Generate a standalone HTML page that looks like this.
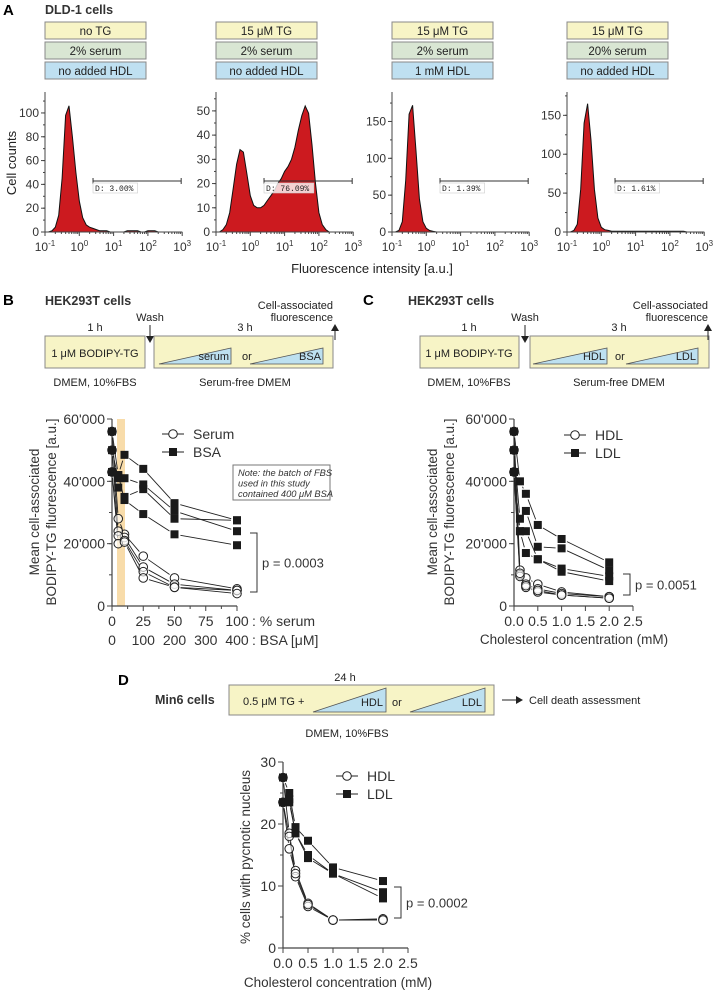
<!DOCTYPE html>
<html><head><meta charset="utf-8">
<style>
body{margin:0;background:#fff}
svg{display:block;font-family:"Liberation Sans",sans-serif}
.t{font-size:11px;fill:#222}
.b{font-weight:bold}
</style></head>
<body>
<svg id="fig" width="715" height="991" viewBox="0 0 715 991">
<!-- Panel A header -->
<text x="3" y="15" font-size="15" font-weight="bold">A</text>
<text x="45" y="14" font-size="12.5" font-weight="bold" fill="#333">DLD-1 cells</text>
<g id="condboxes"></g>
<text transform="translate(16,163) rotate(-90)" text-anchor="middle" font-size="13" fill="#222">Cell counts</text>
<text x="372" y="273" text-anchor="middle" font-size="13" fill="#222">Fluorescence intensity [a.u.]</text>

<!-- Panel B header -->
<text x="3" y="305" font-size="15" font-weight="bold">B</text>
<text x="45" y="305" font-size="12.5" font-weight="bold" fill="#333">HEK293T cells</text>
<g>
<text x="95" y="331" text-anchor="middle" class="t">1 h</text>
<rect x="45" y="336" width="100" height="32" fill="#f7f4c6" stroke="#888"/>
<text x="95" y="357" text-anchor="middle" class="t">1 μM BODIPY-TG</text>
<text x="95" y="386" text-anchor="middle" class="t">DMEM, 10%FBS</text>
<text x="150" y="321" text-anchor="middle" class="t">Wash</text>
<line x1="150" y1="325" x2="150" y2="340" stroke="#222"/><path d="M146,336 L150,343 L154,336Z" fill="#222"/>
<rect x="154" y="336" width="179" height="32" fill="#f7f4c6" stroke="#888"/>
<text x="245" y="331" text-anchor="middle" class="t">3 h</text>
<path d="M159,364 L231,348 L231,364Z" fill="#bde0f0" stroke="#555" stroke-width="0.8"/>
<text x="229" y="360" text-anchor="end" class="t">serum</text>
<text x="242" y="360" class="t">or</text>
<path d="M250,364 L323,348 L323,364Z" fill="#bde0f0" stroke="#555" stroke-width="0.8"/>
<text x="321" y="360" text-anchor="end" class="t">BSA</text>
<text x="245" y="386" text-anchor="middle" class="t">Serum-free DMEM</text>
<text x="333" y="309" text-anchor="end" class="t">Cell-associated</text>
<text x="333" y="321" text-anchor="end" class="t">fluorescence</text>
<line x1="335" y1="340" x2="335" y2="328" stroke="#222"/><path d="M331,331 L335,324 L339,331Z" fill="#222"/>
</g>

<!-- Panel C header -->
<text x="363" y="305" font-size="15" font-weight="bold">C</text>
<text x="408" y="305" font-size="12.5" font-weight="bold" fill="#333">HEK293T cells</text>
<g>
<text x="469" y="331" text-anchor="middle" class="t">1 h</text>
<rect x="420" y="336" width="99" height="32" fill="#f7f4c6" stroke="#888"/>
<text x="469" y="357" text-anchor="middle" class="t">1 μM BODIPY-TG</text>
<text x="469" y="386" text-anchor="middle" class="t">DMEM, 10%FBS</text>
<text x="525" y="321" text-anchor="middle" class="t">Wash</text>
<line x1="525" y1="325" x2="525" y2="340" stroke="#222"/><path d="M521,336 L525,343 L529,336Z" fill="#222"/>
<rect x="530" y="336" width="179" height="32" fill="#f7f4c6" stroke="#888"/>
<text x="619" y="331" text-anchor="middle" class="t">3 h</text>
<path d="M533,364 L607,348 L607,364Z" fill="#bde0f0" stroke="#555" stroke-width="0.8"/>
<text x="605" y="360" text-anchor="end" class="t">HDL</text>
<text x="615" y="360" class="t">or</text>
<path d="M626,364 L698,348 L698,364Z" fill="#bde0f0" stroke="#555" stroke-width="0.8"/>
<text x="696" y="360" text-anchor="end" class="t">LDL</text>
<text x="619" y="386" text-anchor="middle" class="t">Serum-free DMEM</text>
<text x="708" y="309" text-anchor="end" class="t">Cell-associated</text>
<text x="708" y="321" text-anchor="end" class="t">fluorescence</text>
<line x1="708" y1="340" x2="708" y2="328" stroke="#222"/><path d="M704,331 L708,324 L712,331Z" fill="#222"/>
</g>

<!-- Panel D header -->
<text x="118" y="685" font-size="15" font-weight="bold">D</text>
<text x="155" y="704" font-size="12.5" font-weight="bold" fill="#333">Min6 cells</text>
<g>
<text x="345" y="681" text-anchor="middle" class="t">24 h</text>
<rect x="229" y="685" width="265" height="30" fill="#f7f4c6" stroke="#888"/>
<text x="243" y="705" class="t">0.5 μM TG  +</text>
<path d="M313,712 L386,688 L386,712Z" fill="#bde0f0" stroke="#555" stroke-width="0.8"/>
<text x="383" y="706" text-anchor="end" class="t">HDL</text>
<text x="392" y="706" class="t">or</text>
<path d="M410,712 L485,688 L485,712Z" fill="#bde0f0" stroke="#555" stroke-width="0.8"/>
<text x="482" y="706" text-anchor="end" class="t">LDL</text>
<text x="347" y="737" text-anchor="middle" class="t">DMEM, 10%FBS</text>
<line x1="502" y1="700" x2="518" y2="700" stroke="#222"/><path d="M516,696 L523,700 L516,704Z" fill="#222"/>
<text x="529" y="704" class="t">Cell death assessment</text>
</g>
</svg>
<script>
// ---------- DATA ----------
const histLogBins = [-1.0,-0.9,-0.8,-0.7,-0.6,-0.5,-0.4,-0.3,-0.2,-0.1,0,0.1,0.2,0.3,0.4,0.5,0.6,0.7,0.8,0.9,1.0,1.1,1.2,1.3,1.4,1.5,1.6,1.7,1.8,1.9,2.0,2.1,2.2,2.3,2.4,2.5,2.6,2.7,2.8,2.9,3.0];
const histNoTG   = [0,0,1,4,14,45,98,106,80,50,26,12,6,4,3,2,1,1,1,0,0,0,0,0,1,1,1,1,0,0,1,1,1,0,0,0,0,0,0,0,0];
const histTG     = [0,0,1,3,8,18,28,34,33,24,15,11,10,10,11,13,15,17,20,22,25,27,30,35,42,48,52,49,36,20,8,3,1,0,0,0,0,0,0,0,0];
const histHDL    = [0,0,2,14,70,160,172,110,45,14,5,2,1,0,0,0,0,0,0,0,0,0,0,0,0,0,0,0,0,0,0,0,0,0,0,0,0,0,0,0,0];
const histSerum20= [0,0,2,10,55,140,165,118,55,18,6,3,2,1,1,1,1,1,1,1,1,1,1,1,1,1,1,1,1,1,1,1,1,1,1,0,0,0,0,0,0];
const gateLabels = ["D: 3.00%","D: 76.09%","D: 1.39%","D: 1.61%"];
const condTG    = ["no TG","15 μM TG","15 μM TG","15 μM TG"];
const condSerum = ["2% serum","2% serum","2% serum","20% serum"];
const condHDL   = ["no added HDL","no added HDL","1 mM HDL","no added HDL"];

const bX = [0,5,10,25,50,100];
const bXTicks = [0,25,50,75,100];
const bXTicks2 = [0,100,200,300,400];
const bYTicks = [0,20000,40000,60000];
const bYLabels = ["0","20'000","40'000","60'000"];
const bBSA1 = [56000,42000,48500,44000,33000,27500];
const bBSA2 = [50000,41000,41000,39000,30500,24000];
const bBSA3 = [43000,38000,35000,37500,28000,27500];
const bBSA4 = [43000,42000,34000,29500,23000,19500];
const bSer1 = [56000,28000,23000,16000,9000,5500];
const bSer2 = [50000,24000,22000,12500,7000,5000];
const bSer3 = [43000,22500,21000,11000,6000,5000];
const bSer4 = [43000,20000,20500,9000,6000,4000];

const cX = [0,0.125,0.25,0.5,1,2];
const cXTicks = [0,0.5,1,1.5,2,2.5];
const cLDL1 = [56000,40000,36000,26000,21500,14000];
const cLDL2 = [50000,28000,30500,19000,18500,11500];
const cLDL3 = [43000,24000,24000,15000,12000,9500];
const cLDL4 = [43000,24000,17000,15000,11000,8000];
const cHDL1 = [56000,11500,9000,7000,4500,3000];
const cHDL2 = [50000,10000,7000,5500,4000,3000];
const cHDL3 = [43000,9500,6000,4500,3500,2500];
const cHDL4 = [43000,10500,6500,5000,3500,2500];

const dX = [0,0.125,0.25,0.5,1,2];
const dYTicks = [0,10,20,30];
const dLDL1 = [27.5,25,19.5,17.3,13,10.8];
const dLDL2 = [23.5,24,18.5,15,12,9];
const dLDL3 = [23.5,23.5,18.5,14.5,12,8];
const dHDL1 = [27.5,18.5,12.5,7.2,4.5,4.7];
const dHDL2 = [23.5,18,11.5,6.7,4.5,4.5];
const dHDL3 = [23.5,16,12,7,4.5,4.5];

// ---------- DRAWING ----------
const NS='http://www.w3.org/2000/svg';
const svg=document.getElementById('fig');
function mk(tag, attrs, parent){
  const e=document.createElementNS(NS,tag);
  for(const k in attrs) e.setAttribute(k,attrs[k]);
  (parent||svg).appendChild(e);
  return e;
}
function grp(name){
  const g=mk('g',{});
  
  
  return g;
}

// ---- Panel A ----
const aX0=[45,216,392,567];
const aMax=[117.6,57.8,190,180];
const aYTicks=[[0,20,40,60,80,100],[0,10,20,30,40,50],[0,50,100,150],[0,50,100,150]];
const aHists=[histNoTG,histTG,histHDL,histSerum20];
const aTop=92, aBot=232, dec=34.3;
const cb=document.getElementById('condboxes');
for(let p=0;p<4;p++){
  const x0=aX0[p];
  const rows=[[condTG[p],'#f7f4c6',22],[condSerum[p],'#d9e6d3',42],[condHDL[p],'#bfe0f1',62]];
  rows.forEach((r,i)=>{
    const rc=mk('rect',{x:x0,y:r[2],width:101,height:17,fill:r[1],stroke:'#888'},cb);
    
    
    const tx=mk('text',{x:x0+50.5,y:r[2]+13,'text-anchor':'middle','font-size':'11.5',fill:'#222'},cb);
    tx.textContent=r[0];
  });
  const g=grp('histogram-'+(p+1));
  const xs=v=>x0+(v+1)*dec;
  const ys=v=>aBot-v/aMax[p]*(aBot-aTop);
  let d='M'+xs(-1)+','+aBot;
  aHists[p].forEach((c,i)=>{d+=' L'+xs(histLogBins[i]).toFixed(1)+','+ys(c).toFixed(1);});
  d+=' L'+xs(3)+','+aBot+'Z';
  const h=mk('path',{d:d,fill:'#cc1a1f',stroke:'#111','stroke-width':'1'},g);
  
  
  mk('line',{x1:x0,y1:aTop,x2:x0,y2:aBot,stroke:'#444'},g);
  mk('line',{x1:x0,y1:aBot,x2:xs(3),y2:aBot,stroke:'#444'},g);
  aYTicks[p].forEach(t=>{
    mk('line',{x1:x0-4,y1:ys(t),x2:x0,y2:ys(t),stroke:'#444'},g);
    const tl=mk('text',{x:x0-6,y:ys(t)+4,'text-anchor':'end','font-size':'12',fill:'#333'},g);
    tl.textContent=t;
  });
  const step=aYTicks[p][1]/2;
  for(let v=0;v<=aMax[p];v+=step){mk('line',{x1:x0-2,y1:ys(v),x2:x0,y2:ys(v),stroke:'#444'},g);}
  for(let e=-1;e<=3;e++){
    mk('line',{x1:xs(e),y1:aBot,x2:xs(e),y2:aBot+4,stroke:'#444'},g);
    const tl=mk('text',{x:xs(e),y:aBot+19,'text-anchor':'middle','font-size':'12',fill:'#333'},g);
    tl.innerHTML='10<tspan font-size="8" dy="-5">'+e+'</tspan>';
    if(e<3) for(let m=2;m<10;m++){const lx=xs(e+Math.log10(m));mk('line',{x1:lx,y1:aBot,x2:lx,y2:aBot+2,stroke:'#444'},g);}
  }
  const gx1=xs(0.4), gx2=xs(2.97), gy=181;
  mk('line',{x1:gx1,y1:gy,x2:gx2,y2:gy,stroke:'#333'},g);
  mk('line',{x1:gx1,y1:gy-3,x2:gx1,y2:gy+3,stroke:'#333'},g);
  mk('line',{x1:gx2,y1:gy-3,x2:gx2,y2:gy+3,stroke:'#333'},g);
  const gl=gateLabels[p];
  mk('rect',{x:gx1,y:gy+2,width:gl.length*5.2+3,height:10,fill:'#fff',stroke:'#ccc','stroke-width':'0.6','fill-opacity':'0.8'},g);
  const gt=mk('text',{x:gx1+2,y:gy+10,'font-size':'8','font-family':'Liberation Mono, monospace',fill:'#222'},g);
  
  
  gt.textContent=gl;
}

function scatter(cfg){
  const g=grp(cfg.name);
  const xs=cfg.xs, ys=cfg.ys;
  cfg.series.forEach(s=>{
    s.reps.forEach(rep=>{
      for(let i=0;i<cfg.x.length-1;i++){
        const x1=xs(cfg.x[i]),y1=ys(rep[i]),x2=xs(cfg.x[i+1]),y2=ys(rep[i+1]);
        const L=Math.hypot(x2-x1,y2-y1); if(L<12) continue;
        const ux=(x2-x1)/L,uy=(y2-y1)/L;
        const ln=mk('line',{x1:x1+ux*6,y1:y1+uy*6,x2:x2-ux*6,y2:y2-uy*6,stroke:'#222','stroke-width':'0.9'},g);
        
        
      }
    });
  });
  cfg.series.forEach(s=>{
    s.reps.forEach(rep=>{
      rep.forEach((v,i)=>{
        let m;
        if(s.sq){m=mk('rect',{x:xs(cfg.x[i])-4,y:ys(v)-4,width:8,height:8,fill:'#1a1a1a'},g);}
        else {m=mk('circle',{cx:xs(cfg.x[i]),cy:ys(v),r:4.3,fill:'#fff','fill-opacity':'0.6',stroke:'#222','stroke-width':'1'},g);}
        
        
      });
    });
  });
}
function yAxis(g,x0,ys,ticks,labels,minorStep,ymin,ymax,fs){
  mk('line',{x1:x0,y1:ys(ymax),x2:x0,y2:ys(ymin),stroke:'#444','stroke-width':'1.2'},g);
  ticks.forEach((t,i)=>{
    mk('line',{x1:x0-5,y1:ys(t),x2:x0,y2:ys(t),stroke:'#444'},g);
    const tl=mk('text',{x:x0-7,y:ys(t)+5,'text-anchor':'end','font-size':fs,fill:'#333'},g);
    tl.textContent=labels[i];
  });
  for(let v=ymin;v<=ymax;v+=minorStep) mk('line',{x1:x0-3,y1:ys(v),x2:x0,y2:ys(v),stroke:'#444'},g);
}
function legend(g,x,y,label,sq){
  mk('line',{x1:x-11,y1:y,x2:x+11,y2:y,stroke:'#222'},g);
  if(sq) mk('rect',{x:x-4,y:y-4,width:8,height:8,fill:'#1a1a1a'},g);
  else mk('circle',{cx:x,cy:y,r:4.3,fill:'#fff',stroke:'#222'},g);
  const t=mk('text',{x:x+20,y:y+5,'font-size':'14',fill:'#333'},g);
  
  
  t.textContent=label;
}
function bracket(g,x,y1,y2,label){
  mk('path',{d:'M'+x+','+y1+' L'+(x+7)+','+y1+' L'+(x+7)+','+y2+' L'+x+','+y2,fill:'none',stroke:'#333'},g);
  const t=mk('text',{x:x+12,y:(y1+y2)/2+5,'font-size':'13',fill:'#333'},g);
  
  
  t.textContent=label;
}

// ---- Panel B ----
{
  const xs=v=>112+v*1.25, ys=v=>606-v*(187/60000);
  const g=grp('panel-b-chart');
  const band=mk('rect',{x:xs(4),y:ys(60000),width:8,height:187,fill:'#f8dcaa'},g);
  
  
  yAxis(g,112,ys,bYTicks,bYLabels,10000,0,60000,'14');
  mk('line',{x1:112,y1:606,x2:xs(100),y2:606,stroke:'#444','stroke-width':'1.2'},g);
  for(let v=0;v<=100;v+=12.5) mk('line',{x1:xs(v),y1:606,x2:xs(v),y2:606+(v%25===0?5:3),stroke:'#444'},g);
  bXTicks.forEach((t,i)=>{
    const a=mk('text',{x:xs(t),y:626,'text-anchor':'middle','font-size':'14',fill:'#333'},g); a.textContent=t;
    const b=mk('text',{x:xs(t),y:645,'text-anchor':'middle','font-size':'14',fill:'#333'},g); b.textContent=bXTicks2[i];
  });
  const s1=mk('text',{x:252,y:626,'font-size':'14',fill:'#333'},g); s1.textContent=': % serum';
  const s2=mk('text',{x:252,y:645,'font-size':'14',fill:'#333'},g); s2.textContent=': BSA [μM]';
  const yt=mk('text',{transform:'translate(39,512) rotate(-90)','text-anchor':'middle','font-size':'13.5',fill:'#333'},g);
  
  
  yt.innerHTML='<tspan x="0" dy="0">Mean cell-associated</tspan><tspan x="0" dy="17">BODIPY-TG fluorescence [a.u.]</tspan>';
  legend(g,173,434,'Serum',false);
  legend(g,173,452,'BSA',true);
  const nb=mk('rect',{x:233,y:465,width:97,height:35,fill:'#fff',stroke:'#777'},g);
  
  
  ['Note: the batch of FBS','used in this study','contained 400 μM BSA'].forEach((l,i)=>{
    const t=mk('text',{x:238,y:476+i*10.5,'font-size':'9.3','font-style':'italic',fill:'#333'},g); t.textContent=l;
  });
  bracket(g,250,533,592,'p = 0.0003');
  scatter({name:'panel-b-points',x:bX,xs:xs,ys:ys,series:[
    {label:'serum',sq:false,reps:[bSer1,bSer2,bSer3,bSer4]},
    {label:'bsa',sq:true,reps:[bBSA1,bBSA2,bBSA3,bBSA4]}]});
}

// ---- Panel C ----
{
  const xs=v=>514+v*47.6, ys=v=>606-v*(187/60000);
  const g=grp('panel-c-chart');
  yAxis(g,514,ys,bYTicks,bYLabels,10000,0,60000,'14');
  mk('line',{x1:514,y1:606,x2:xs(2.5),y2:606,stroke:'#444','stroke-width':'1.2'},g);
  cXTicks.forEach(t=>{
    mk('line',{x1:xs(t),y1:606,x2:xs(t),y2:611,stroke:'#444'},g);
    const a=mk('text',{x:xs(t),y:626,'text-anchor':'middle','font-size':'14',fill:'#333'},g); a.textContent=t.toFixed(1);
  });
  const xt=mk('text',{x:574,y:644,'text-anchor':'middle','font-size':'13.5',fill:'#333'},g);
  
  
  xt.textContent='Cholesterol concentration (mM)';
  const yt=mk('text',{transform:'translate(437,512) rotate(-90)','text-anchor':'middle','font-size':'13.5',fill:'#333'},g);
  
  
  yt.innerHTML='<tspan x="0" dy="0">Mean cell-associated</tspan><tspan x="0" dy="17">BODIPY-TG fluorescence [a.u.]</tspan>';
  legend(g,575,435,'HDL',false);
  legend(g,575,453,'LDL',true);
  bracket(g,623,574,595,'p = 0.0051');
  scatter({name:'panel-c-points',x:cX,xs:xs,ys:ys,series:[
    {label:'hdl',sq:false,reps:[cHDL1,cHDL2,cHDL3,cHDL4]},
    {label:'ldl',sq:true,reps:[cLDL1,cLDL2,cLDL3,cLDL4]}]});
}

// ---- Panel D ----
{
  const xs=v=>283+v*50, ys=v=>948-v*(186/30);
  const g=grp('panel-d-chart');
  yAxis(g,283,ys,dYTicks,dYTicks.map(String),5,0,30,'14');
  mk('line',{x1:283,y1:948,x2:xs(2.5),y2:948,stroke:'#444','stroke-width':'1.2'},g);
  cXTicks.forEach(t=>{
    mk('line',{x1:xs(t),y1:948,x2:xs(t),y2:953,stroke:'#444'},g);
    const a=mk('text',{x:xs(t),y:968,'text-anchor':'middle','font-size':'14',fill:'#333'},g); a.textContent=t.toFixed(1);
  });
  const xt=mk('text',{x:338,y:987,'text-anchor':'middle','font-size':'13.5',fill:'#333'},g);
  
  
  xt.textContent='Cholesterol concentration (mM)';
  const yt=mk('text',{transform:'translate(250,857) rotate(-90)','text-anchor':'middle','font-size':'13.5',fill:'#333'},g);
  
  
  yt.textContent='% cells with pycnotic nucleus';
  legend(g,347,776,'HDL',false);
  legend(g,347,794,'LDL',true);
  bracket(g,394,887,918,'p = 0.0002');
  scatter({name:'panel-d-points',x:dX,xs:xs,ys:ys,series:[
    {label:'hdl',sq:false,reps:[dHDL1,dHDL2,dHDL3]},
    {label:'ldl',sq:true,reps:[dLDL1,dLDL2,dLDL3]}]});
}
</script>
</body></html>
